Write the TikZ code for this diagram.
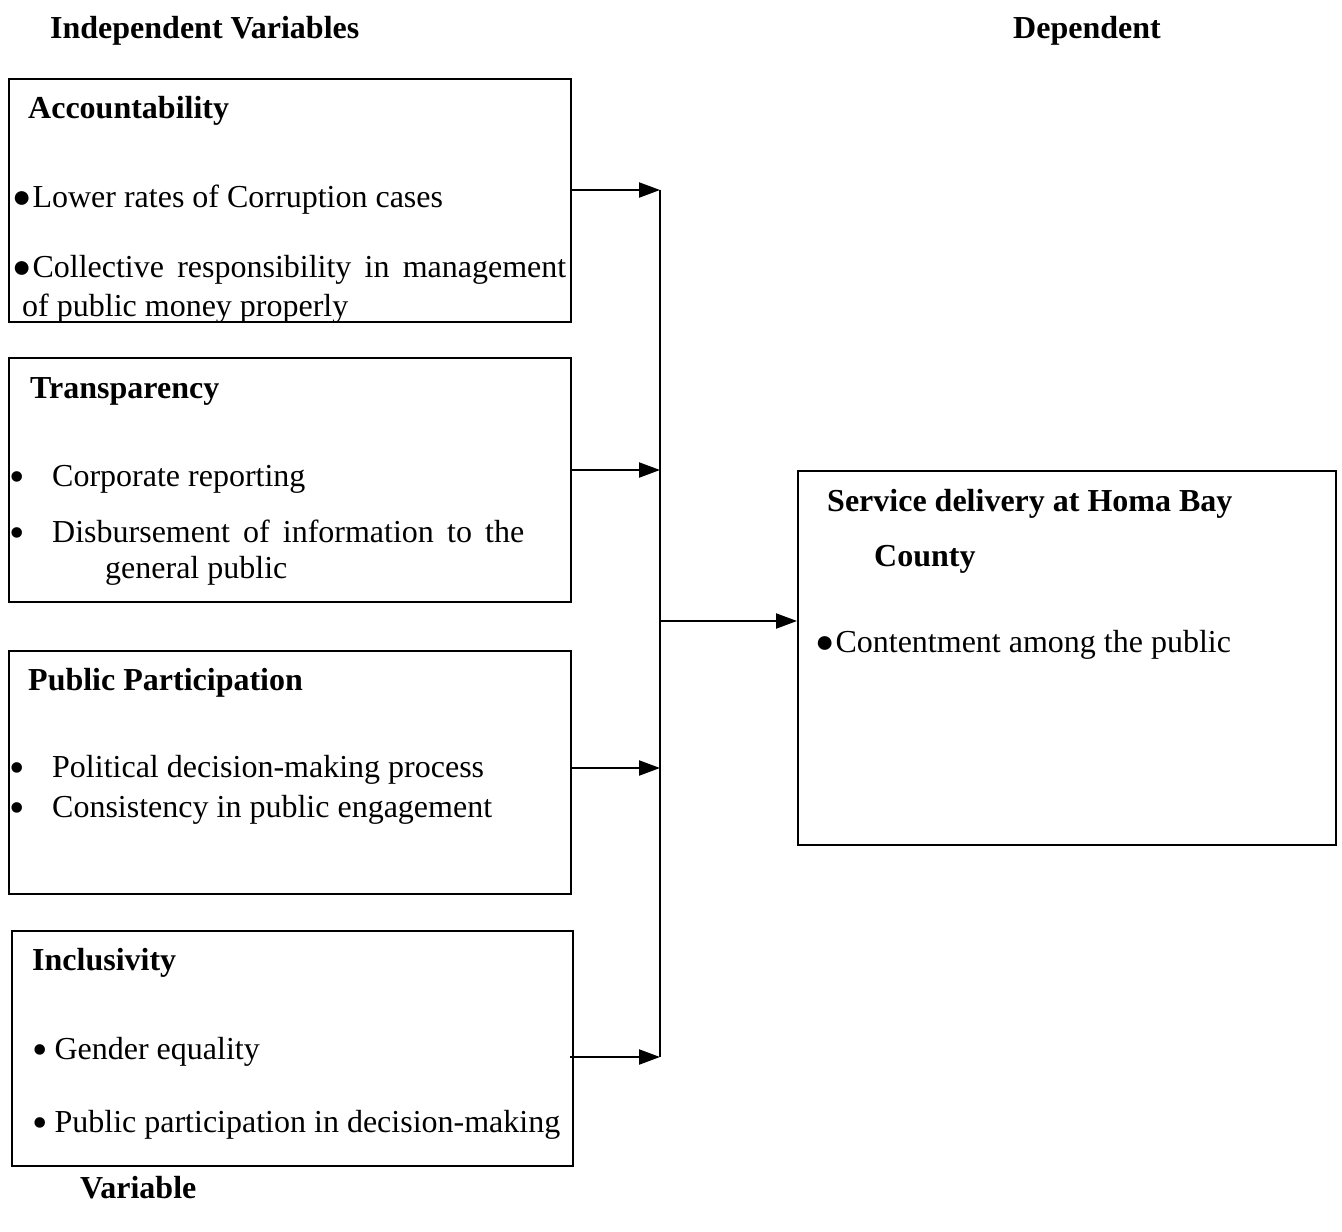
\documentclass[tikz,border=0pt]{standalone}
\usepackage{fontspec}
\setmainfont{Liberation Serif}
\usetikzlibrary{arrows.meta}
\newcommand{\bigdot}{\raisebox{0pt}{\fontsize{32}{32}\selectfont ●}}
\newcommand{\middot}{\raisebox{-5pt}{\fontsize{44}{44}\selectfont\textbullet}}
\begin{document}
\begin{tikzpicture}[x=1pt,y=-1pt,
  box/.style={draw,line width=1.8pt,inner sep=0pt,anchor=north west},
  txt/.style={anchor=base west,inner sep=0pt,font=\fontsize{32}{37}\selectfont},
  hd/.style={txt,font=\fontsize{32}{37}\selectfont\bfseries},
  arr/.style={line width=2.2pt,-{Triangle[length=21pt,width=15pt]}},
  trunk/.style={line width=1.8pt}]
\useasboundingbox (0,0) rectangle (1342,1232);
% headings
\node[hd] (h1) at (50,38) {Independent Variables};
\node[hd] (h2) at (1013,38) {Dependent};
\node[hd] (h3) at (80,1198) {Variable};
% boxes
\node[box,minimum width=562pt,minimum height=243pt] (b1) at (8,78) {};
\node[box,minimum width=562pt,minimum height=244pt] (b2) at (8,357) {};
\node[box,minimum width=562pt,minimum height=243pt] (b3) at (8,650) {};
\node[box,minimum width=561pt,minimum height=235pt] (b4) at (11,930) {};
\node[box,minimum width=538pt,minimum height=374pt] (b5) at (797,470) {};
% box 1
\node[hd] (t1) at (28,118) {Accountability};
\node[txt] (t1a) at (12,207) {\bigdot\hspace{1pt}Lower rates of Corruption cases};
\node[txt] (t1b) at (12,277) {\hbox to 554pt{\bigdot\hspace{1pt}Collective\hfill responsibility\hfill in\hfill management}};
\node[txt] (t1c) at (22,316) {of public money properly};
% box 2
\node[hd] (t2) at (30,398) {Transparency};
\node[txt] (t2a) at (9,486) {\middot};
\node[txt] (t2b) at (52,486) {Corporate reporting};
\node[txt] (t2c) at (9,542) {\middot};
\node[txt] (t2d) at (52,542) {\hbox to 472pt{Disbursement\hfill of\hfill information\hfill to\hfill the}};
\node[txt] (t2e) at (105,578) {general public};
% box 3
\node[hd] (t3) at (28,690) {Public Participation};
\node[txt] (t3a) at (9,777) {\middot};
\node[txt] (t3b) at (52,777) {Political decision-making process};
\node[txt] (t3c) at (9,817) {\middot};
\node[txt] (t3d) at (52,817) {Consistency in public engagement};
% box 4
\node[hd] (t4) at (32,970) {Inclusivity};
\node[txt] (t4a) at (32,1059) {\middot\hspace{7pt}Gender equality};
\node[txt] (t4b) at (32,1132) {\middot\hspace{7pt}Public participation in decision-making};
% box 5
\node[hd] (t5) at (827,511) {Service delivery at Homa Bay};
\node[hd] (t5a) at (874,566) {County};
\node[txt] (t5b) at (815,652) {\bigdot\hspace{1pt}Contentment among the public};
% connectors
\coordinate (j1) at (660,190);
\coordinate (j2) at (660,470);
\coordinate (j3) at (660,768);
\coordinate (j4) at (660,1057);
\coordinate (jm) at (660,621);
\draw[trunk] (j1) -- (j4);
\draw[arr] (b1.east |- j1) -- (j1);
\draw[arr] (b2.east |- j2) -- (j2);
\draw[arr] (b3.east |- j3) -- (j3);
\draw[arr] ([xshift=-4pt]b4.east |- j4) -- (j4);
\draw[arr] (jm) -- (b5.west |- jm);
\end{tikzpicture}
\end{document}
